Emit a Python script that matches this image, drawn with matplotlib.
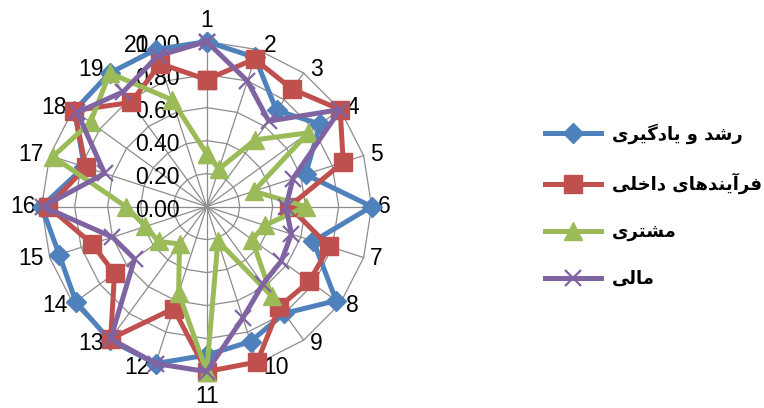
import numpy as np
import matplotlib
matplotlib.use('Agg')
import matplotlib.pyplot as plt

# Radar chart: 20 indicators, four perspectives (values 0..1)
categories = ['1', '2', '3', '4', '5', '6', '7', '8', '9', '10',
              '11', '12', '13', '14', '15', '16', '17', '18', '19', '20']
growth = [1.00, 0.95, 0.72, 0.85, 0.63, 1.00, 0.68, 0.97, 0.80, 0.86,
          0.90, 1.00, 1.00, 0.98, 0.94, 1.00, 0.78, 0.99, 1.00, 1.00]
internal = [0.77, 0.94, 0.88, 1.00, 0.87, 0.50, 0.78, 0.77, 0.75, 0.99,
            1.00, 0.65, 0.99, 0.69, 0.73, 0.96, 0.77, 0.99, 0.78, 0.91]
customer = [0.32, 0.24, 0.50, 0.76, 0.30, 0.60, 0.37, 0.34, 0.67, 0.22,
            1.00, 0.55, 0.28, 0.36, 0.39, 0.49, 0.98, 0.87, 1.00, 0.68]
financial = [1.00, 0.80, 0.64, 1.00, 0.55, 0.48, 0.54, 0.56, 0.58, 0.71,
             1.00, 1.00, 0.99, 0.54, 0.60, 0.99, 0.65, 0.97, 0.86, 0.96]
series_names = ['رشد و یادگیری', 'فرآیندهای داخلی', 'مشتری', 'مالی']
r_ticks = [0.0, 0.2, 0.4, 0.6, 0.8, 1.0]

# Arabic presentation forms: isolated, final, initial, medial
# (matplotlib does no shaping, so do it by hand)
FORMS = {
    'ا': ('\ufe8d', '\ufe8e', None, None),
    'آ': ('\ufe81', '\ufe82', None, None),
    'د': ('\ufea9', '\ufeaa', None, None),
    'ر': ('\ufead', '\ufeae', None, None),
    'و': ('\ufeed', '\ufeee', None, None),
    'ت': ('\ufe95', '\ufe96', '\ufe97', '\ufe98'),
    'خ': ('\ufea5', '\ufea6', '\ufea7', '\ufea8'),
    'ش': ('\ufeb5', '\ufeb6', '\ufeb7', '\ufeb8'),
    'ف': ('\ufed1', '\ufed2', '\ufed3', '\ufed4'),
    'ل': ('\ufedd', '\ufede', '\ufedf', '\ufee0'),
    'م': ('\ufee1', '\ufee2', '\ufee3', '\ufee4'),
    'ن': ('\ufee5', '\ufee6', '\ufee7', '\ufee8'),
    'ه': ('\ufee9', '\ufeea', '\ufeeb', '\ufeec'),
    'گ': ('\ufb92', '\ufb93', '\ufb94', '\ufb95'),
    'ی': ('\ufbfc', '\ufbfd', '\ufbfe', '\ufbff'),
}


def shape(text):
    """Join Persian letters and reverse them for left-to-right drawing"""
    out = []
    for i, ch in enumerate(text):
        if ch not in FORMS:
            out.append(ch)
            continue
        prev = text[i - 1] if i > 0 else ''
        nxt = text[i + 1] if i + 1 < len(text) else ''
        iso, fin, ini, med = FORMS[ch]
        joins_prev = prev in FORMS and FORMS[prev][2] is not None
        joins_next = nxt in FORMS and ini is not None
        if joins_prev and joins_next:
            out.append(med)
        elif joins_prev:
            out.append(fin)
        elif joins_next:
            out.append(ini)
        else:
            out.append(iso)
    return ''.join(reversed(out))


fig = plt.figure(figsize=(7.64, 4.08), dpi=100)
ax = fig.add_axes([0.0545, 0.0892, 0.432, 0.809], projection='polar')
ax.set_theta_zero_location('N')
ax.set_theta_direction(-1)
ax.set_ylim(0, 1)
ax.grid(False)
ax.set_xticks([])
ax.set_yticks([])
ax.spines['polar'].set_visible(False)
ax.patch.set_visible(False)

n = len(categories)
theta = np.deg2rad(np.arange(n) * 360.0 / n)
theta_closed = np.append(theta, theta[0])

grid_color = '#8c8c8c'
# polygon rings and spokes
for v in r_ticks[1:]:
    ax.plot(theta_closed, [v] * (n + 1), color=grid_color, lw=0.9,
            zorder=1, clip_on=False)
for t in theta:
    ax.plot([t, t], [0, 1], color=grid_color, lw=0.9, zorder=1,
            clip_on=False)

num_font = {'family': 'Liberation Sans', 'size': 16.5}

for v in r_ticks:
    ax.annotate('%.2f' % v, xy=(0, v), xytext=(-27, -4),
                textcoords='offset pixels', ha='right', va='center',
                zorder=2, **num_font)

for t, lab in zip(theta, categories):
    s, c = np.sin(t), np.cos(t)
    if abs(s) < 0.01:
        if c > 0:
            off, va = (0, 15), 'baseline'
        else:
            off, va = (0, -31), 'baseline'
        ha = 'center'
    else:
        ha = 'left' if s > 0 else 'right'
        va = 'center'
        off = (6 if s > 0 else -6, c * 4)
    ax.annotate(lab, xy=(t, 1.0), xytext=off, textcoords='offset pixels',
                ha=ha, va=va, annotation_clip=False, **num_font)

styles = [
    (growth, '#4f81bd', 'D', 10, 1.0),
    (internal, '#c0504d', 's', 12.5, 1.0),
    (customer, '#9bbb59', '^', 13, 1.0),
    (financial, '#8064a2', 'x', 12, 1.6),
]
handles = []
for vals, col, mk, ms, mew in styles:
    r = np.append(vals, vals[0])
    h, = ax.plot(theta_closed, r, color=col, lw=3.6, marker=mk,
                 markersize=ms, markerfacecolor=col, markeredgecolor=col,
                 markeredgewidth=mew, clip_on=False, zorder=3)
    handles.append(h)

fig.legend(handles, [shape(s) for s in series_names], loc='center left',
           bbox_to_anchor=(0.713, 0.496), frameon=False, numpoints=1,
           prop={'family': 'DejaVu Sans', 'weight': 'bold', 'size': 13},
           handlelength=3.1, handletextpad=0.6, labelspacing=1.6,
           borderpad=0, borderaxespad=0)

fig.savefig('out.png', dpi=100)
